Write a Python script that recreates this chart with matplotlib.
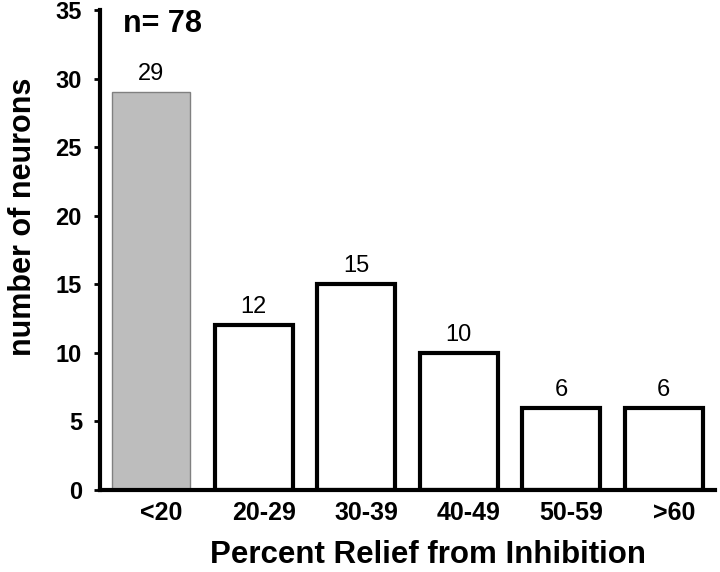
import matplotlib
matplotlib.use("Agg")
import matplotlib.pyplot as plt
import numpy as np

categories = ["<20", "20-29", "30-39", "40-49", "50-59", ">60"]
counts = [29, 12, 15, 10, 6, 6]
total_n = 78

plt.rcParams['font.family'] = ['Liberation Sans', 'DejaVu Sans']

fig = plt.figure(figsize=(7.2, 5.72), dpi=100)
L, R, B, T = 100, 715, 490, 10
ax = fig.add_axes([L/720, (572-B)/572, (R-L)/720, (B-T)/572])

x = np.arange(len(categories))
face = ['#bdbdbd'] + ['white'] * (len(categories) - 1)
edge = ['#808080'] + ['black'] * (len(categories) - 1)
lw = [1.0] + [3.0] * (len(categories) - 1)
for xi, c, f, e, w in zip(x, counts, face, edge, lw):
    ax.bar(xi, c, width=0.76, color=f, edgecolor=e, linewidth=w, zorder=2)
    ax.annotate(str(c), (xi, c), xytext=(0, 5), textcoords='offset points',
                ha='center', va='bottom', fontsize=17)

ax.set_xlim(-0.5, 5.5)
ax.set_ylim(0, 35)
ax.set_yticks(np.arange(0, 36, 5))
ax.set_xticks(x + 0.1)
ax.set_xticklabels(categories, fontsize=18, fontweight='bold')
ax.tick_params(axis='x', length=0, pad=8)
ax.tick_params(axis='y', length=4, width=2, labelsize=17, pad=9)
for lab in ax.get_yticklabels():
    lab.set_fontweight('bold')

for s in ['top', 'right']:
    ax.spines[s].set_visible(False)
ax.spines['left'].set_linewidth(3)
ax.spines['bottom'].set_linewidth(3)

ax.set_ylabel('number of neurons', fontsize=22, fontweight='bold')
ax.yaxis.set_label_coords(-0.1, 0.57)
ax.set_xlabel('Percent Relief from Inhibition', fontsize=22.5, fontweight='bold')
ax.xaxis.set_label_coords(0.533, -0.105)
ax.text(123/720, 1 - 32/572, f'n= {total_n}', transform=fig.transFigure, fontsize=22,
        fontweight='bold', va='baseline', ha='left')

fig.savefig('out.png', dpi=100)
